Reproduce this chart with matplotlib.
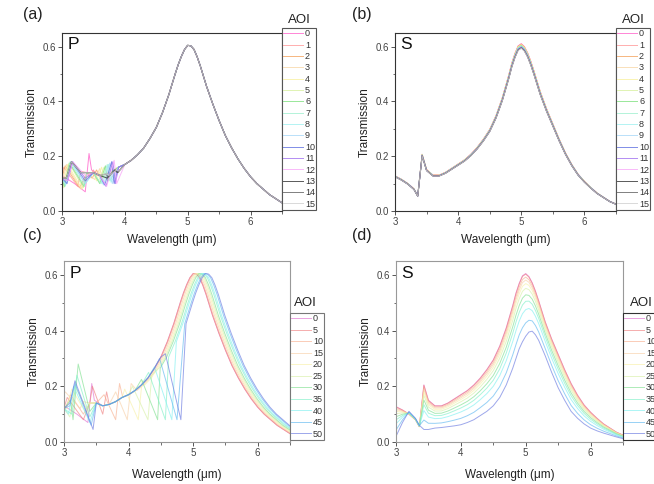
import numpy as np
import matplotlib
matplotlib.use("Agg")
import matplotlib.pyplot as plt
from matplotlib.ticker import MultipleLocator

plt.rcParams['font.family'] = ['Liberation Sans', 'DejaVu Sans']

# ---- base curves ----
# P polarisation, envelope shared by all angles (panel a / c)
P_WL = [3.0, 3.1, 3.2, 3.3, 3.4, 3.5, 3.6, 3.7, 3.8, 3.9, 4.0, 4.1, 4.2, 4.3, 4.4, 4.5,
        4.6, 4.7, 4.8, 4.85, 4.9, 4.95, 5.0, 5.05, 5.1, 5.15, 5.2, 5.3, 5.4, 5.5, 5.6,
        5.7, 5.8, 5.9, 6.0, 6.1, 6.2, 6.3, 6.4, 6.5]
P_T = [0.12, 0.15, 0.16, 0.145, 0.14, 0.14, 0.13, 0.135, 0.145, 0.16, 0.17, 0.185, 0.205,
       0.23, 0.265, 0.305, 0.36, 0.425, 0.5, 0.535, 0.565, 0.59, 0.605, 0.603, 0.59, 0.563,
       0.53, 0.455, 0.39, 0.33, 0.275, 0.23, 0.19, 0.155, 0.125, 0.1, 0.08, 0.06, 0.045, 0.03]
# AOI 0 P curve, low wavelength part
P0_PTS = [(3.0, 0.13), (3.2, 0.1), (3.37, 0.07), (3.43, 0.21), (3.47, 0.15)]

# S polarisation (panel b, and AOI 0 / AOI 50 of panel d)
S_WL = [3.0, 3.1, 3.2, 3.3, 3.36, 3.43, 3.5, 3.6, 3.7, 3.8, 3.9, 4.0, 4.1, 4.2, 4.3, 4.4,
        4.5, 4.6, 4.7, 4.8, 4.85, 4.9, 4.95, 5.0, 5.05, 5.1, 5.15, 5.2, 5.3, 5.4, 5.5, 5.6,
        5.7, 5.8, 5.9, 6.0, 6.1, 6.2, 6.3, 6.4, 6.5]
S_T0 = [0.127, 0.115, 0.1, 0.08, 0.055, 0.205, 0.15, 0.13, 0.13, 0.14, 0.155, 0.17, 0.185,
        0.205, 0.23, 0.26, 0.295, 0.345, 0.41, 0.49, 0.535, 0.57, 0.597, 0.605, 0.594, 0.572,
        0.542, 0.507, 0.432, 0.37, 0.315, 0.26, 0.21, 0.168, 0.133, 0.107, 0.085, 0.065,
        0.05, 0.035, 0.025]
S_T50 = [0.02, 0.07, 0.11, 0.085, 0.06, 0.045, 0.045, 0.05, 0.052, 0.055, 0.058, 0.062,
         0.07, 0.08, 0.095, 0.11, 0.13, 0.16, 0.205, 0.265, 0.3, 0.335, 0.36, 0.38, 0.395,
         0.398, 0.385, 0.365, 0.31, 0.25, 0.195, 0.15, 0.11, 0.085, 0.065, 0.05, 0.04,
         0.032, 0.025, 0.018, 0.012]

AOI_TOP = [0, 1, 2, 3, 4, 5, 6, 7, 8, 9, 10, 11, 12, 13, 14, 15]
AOI_BOT = [0, 5, 10, 15, 20, 25, 30, 35, 40, 45, 50]

COL_TOP = ['#ff66cc', '#ff9999', '#f4a460', '#f8d8a8', '#f8f0a0', '#d8f0a0', '#80e080',
           '#a0f0d0', '#a0f0f0', '#a8d8f8', '#6070e0', '#a070f0', '#f8a8f8', '#303030',
           '#606060', '#d0d0d0']
COL_BOT = ['#e070d0', '#f08080', '#f8b090', '#f8d0a8', '#f8f0a8', '#d8f0a8', '#80e090',
           '#80f0c8', '#80f0f0', '#60b8f0', '#6878e0']

# panel a, AOI 1..15: short-side and long-side anomalies
A_SS = [0.1, 0.095, 0.09, 0.085, 0.085, 0.09, 0.09, 0.095, 0.1, 0.1, 0.11, 0.11, 0.12, 0.12, 0.12]
A_SP = [3.03, 3.05, 3.07, 3.09, 3.11, 3.12, 3.13, 3.14, 3.15, 3.16, 3.17, 3.17, 3.15, 3.15, 3.15]
A_ST = [0.16, 0.165, 0.17, 0.17, 0.175, 0.175, 0.18, 0.18, 0.18, 0.18, 0.18, 0.18, 0.18, 0.18, 0.18]
A_SE = [3.25, 3.28, 3.3, 3.32, 3.34, 3.35, 3.36, 3.37, 3.37, 3.37, 3.37, 3.37, 3.3, 3.3, 3.3]
A_SL = [0.09, 0.085, 0.08, 0.08, 0.085, 0.09, 0.09, 0.1, 0.1, 0.11, 0.12, 0.13, 0.14, 0.14, 0.14]
A_LD = [3.44, 3.48, 3.52, 3.55, 3.58, 3.6, 3.62, 3.64, 3.66, 3.68, 3.7, 3.71, 3.72, 3.73, 3.75]
A_LL = [0.12, 0.12, 0.115, 0.11, 0.11, 0.1, 0.1, 0.1, 0.095, 0.095, 0.09, 0.09, 0.12, 0.125, 0.13]
A_LW = [0.06, 0.07, 0.08, 0.08, 0.09, 0.09, 0.1, 0.1, 0.1, 0.11, 0.11, 0.12, 0.12, 0.12, 0.12]
A_LT = [0.15, 0.15, 0.155, 0.16, 0.16, 0.165, 0.17, 0.17, 0.175, 0.18, 0.18, 0.185, 0.15, 0.15, 0.15]
A_LA = [0.13, 0.13, 0.12, 0.12, 0.115, 0.11, 0.11, 0.105, 0.1, 0.1, 0.1, 0.1, 0.14, 0.14, 0.145]

# panel b: tiny per-angle spread
B_SCALE = [1.01, 1.008, 1.006, 1.004, 1.002, 1.0, 0.998, 0.996, 0.994, 0.992, 0.99,
           0.988, 0.986, 0.985, 0.984, 0.982]

# panel c, AOI 5..50
C_SHIFT = [0.0, 0.01, 0.03, 0.05, 0.07, 0.09, 0.12, 0.14, 0.17, 0.19]
C_SS = [0.1, 0.12, 0.15, 0.12, 0.09, 0.08, 0.1, 0.1, 0.13, 0.14]
C_SP = [3.05, 3.1, 3.02, 3.12, 3.17, 3.22, 3.2, 3.15, 3.17, 3.17]
C_ST = [0.16, 0.17, 0.18, 0.19, 0.2, 0.28, 0.24, 0.2, 0.21, 0.22]
C_SE = [3.3, 3.3, 3.25, 3.35, 3.35, 3.4, 3.4, 3.4, 3.42, 3.45]
C_SL = [0.08, 0.1, 0.12, 0.1, 0.12, 0.11, 0.09, 0.07, 0.06, 0.045]
C_PP = [3.44, 3.62, 3.8, 3.94, 4.06, 4.2, 4.31, 4.4, 4.48, 4.57]
C_PT = [0.2, 0.17, 0.18, 0.19, 0.2, 0.225, 0.25, 0.27, 0.3, 0.317]
C_D = [3.6, 3.8, 3.98, 4.15, 4.3, 4.45, 4.57, 4.67, 4.75, 4.81]
C_DL = [0.1, 0.08, 0.08, 0.08, 0.08, 0.08, 0.08, 0.08, 0.08, 0.08]
C_SPK = [0.18, 0.21, 0.21, 0.22, 0.24, None, None, None, None, None]

# panel d: peak heights per angle
D_PEAK = [0.612, 0.61, 0.6, 0.59, 0.578, 0.562, 0.54, 0.518, 0.49, 0.445, 0.40]


def build(wl, t, segs, shift=0.0, split=99.0):
    wl = np.asarray(wl, float)
    t = np.asarray(t, float)
    left = wl < split
    xr = wl + shift
    right = xr > split
    x = np.concatenate([wl[left], xr[right]])
    y = np.concatenate([t[left], t[right]])
    keep = np.ones(len(x), bool)
    for seg in segs:
        lo, hi = seg[0][0] - 0.03, seg[-1][0] + 0.04
        keep &= ~((x > lo) & (x < hi))
    x, y = list(x[keep]), list(y[keep])
    for seg in segs:
        for px, py in seg:
            x.append(px)
            y.append(py)
    order = np.argsort(x)
    return np.array(x)[order], np.array(y)[order]


fig = plt.figure(figsize=(6.54, 4.84), dpi=100)
W, H = 654, 484


def make_ax(l, r, t, b):
    return fig.add_axes([l / W, 1 - b / H, (r - l) / W, (b - t) / H])


def style(ax, spine_col, pol, xpad):
    ax.set_xlim(3, 6.5)
    ax.set_ylim(0, 0.65)
    ax.xaxis.set_major_locator(MultipleLocator(1))
    ax.xaxis.set_minor_locator(MultipleLocator(0.5))
    ax.yaxis.set_major_locator(MultipleLocator(0.2))
    ax.yaxis.set_minor_locator(MultipleLocator(0.1))
    ax.yaxis.set_major_formatter(matplotlib.ticker.FormatStrFormatter('%.1f'))
    for s in ax.spines.values():
        s.set_color(spine_col)
        s.set_linewidth(0.8)
    ax.tick_params(which='major', direction='out', length=3, width=0.7,
                   colors='#555555', labelsize=7, labelcolor='#444444', pad=1.5)
    ax.tick_params(which='minor', direction='out', length=1.8, width=0.6, colors='#555555')
    ax.set_xlabel('Wavelength (μm)', fontsize=8.5, color='#222222', labelpad=xpad)
    ax.set_ylabel('Transmission', fontsize=8.5, color='#222222', labelpad=3)
    ax.text(0.025, 0.975, pol, transform=ax.transAxes, ha='left', va='top',
            fontsize=12.5, color='#111111')


def legend(ax, lines, labels, top, edge, tx, ty, spacing):
    leg = ax.legend(lines, labels, loc='upper left', bbox_to_anchor=(1.0, top),
                    borderaxespad=0, fontsize=6.5, handlelength=2.2, handletextpad=0.2,
                    labelspacing=spacing, borderpad=0.15, fancybox=False, framealpha=1)
    leg.get_frame().set_edgecolor(edge)
    leg.get_frame().set_linewidth(0.8)
    for txt in leg.get_texts():
        txt.set_color('#333333')
    ax.text(tx, ty, 'AOI', transform=ax.transAxes, ha='center', va='center',
            fontsize=9.5, color='#222222')


# ---- (a) P, small angles ----
ax = make_ax(62, 282, 33, 211)
lines = []
for i, aoi in enumerate(AOI_TOP):
    if i == 0:
        segs = [P0_PTS]
    else:
        k = i - 1
        segs = [[(A_SP[k] - 0.08, A_SS[k]), (A_SP[k], A_ST[k]), (A_SE[k], A_SL[k])],
                [(A_LD[k], A_LL[k]), (A_LD[k] + A_LW[k], A_LT[k]),
                 (A_LD[k] + A_LW[k] + 0.04, A_LA[k])]]
    x, y = build(P_WL, P_T, segs)
    ln, = ax.plot(x, y, color=COL_TOP[i], lw=0.7, alpha=0.8)
    lines.append(ln)
style(ax, '#333333', 'P', 5)
legend(ax, lines, [str(a) for a in AOI_TOP], 1.028, '#555555', 1.077, 1.073, 0.26)

# ---- (b) S, small angles ----
ax = make_ax(395, 616, 33, 211)
lines = []
for i, aoi in enumerate(AOI_TOP):
    ln, = ax.plot(S_WL, np.array(S_T0) * B_SCALE[i], color=COL_TOP[i], lw=0.7, alpha=0.8)
    lines.append(ln)
style(ax, '#333333', 'S', 5)
legend(ax, lines, [str(a) for a in AOI_TOP], 1.028, '#555555', 1.077, 1.073, 0.26)

# ---- (c) P, large angles ----
ax = make_ax(64, 290, 261, 442)
lines = []
for i, aoi in enumerate(AOI_BOT):
    if i == 0:
        x, y = build(P_WL, P_T, [P0_PTS])
    else:
        k = i - 1
        short = [(C_SP[k] - 0.08, C_SS[k]), (C_SP[k], C_ST[k]), (C_SE[k], C_SL[k])]
        lng = [(C_PP[k], C_PT[k]), (C_D[k], C_DL[k])]
        if C_SPK[k] is not None:
            lng.append((C_D[k] + 0.06, C_SPK[k]))
        x, y = build(P_WL, P_T, [short, lng], shift=C_SHIFT[k], split=C_D[k] + 0.03)
    ln, = ax.plot(x, y, color=COL_BOT[i], lw=0.7, alpha=0.65)
    lines.append(ln)
style(ax, '#999999', 'P', 8)
legend(ax, lines, [str(a) for a in AOI_BOT], 0.713, '#777777', 1.066, 0.77, 0.28)

# ---- (d) S, large angles ----
ax = make_ax(396, 623, 261, 442)
lines = []
s0, s50 = np.array(S_T0), np.array(S_T50)
for i, aoi in enumerate(AOI_BOT):
    w = (D_PEAK[0] - D_PEAK[i]) / (D_PEAK[0] - D_PEAK[-1])
    ln, = ax.plot(S_WL, (1 - w) * s0 + w * s50, color=COL_BOT[i], lw=0.7, alpha=0.65)
    lines.append(ln)
style(ax, '#999999', 'S', 8)
legend(ax, lines, [str(a) for a in AOI_BOT], 0.713, '#333333', 1.081, 0.77, 0.28)

for lab, x, y in [('(a)', 23, 14), ('(b)', 352, 14), ('(c)', 23, 236), ('(d)', 352, 236)]:
    fig.text(x / W, 1 - y / H, lab, ha='left', va='center', fontsize=11.5, color='#222222')

fig.savefig('out.png', dpi=100)
